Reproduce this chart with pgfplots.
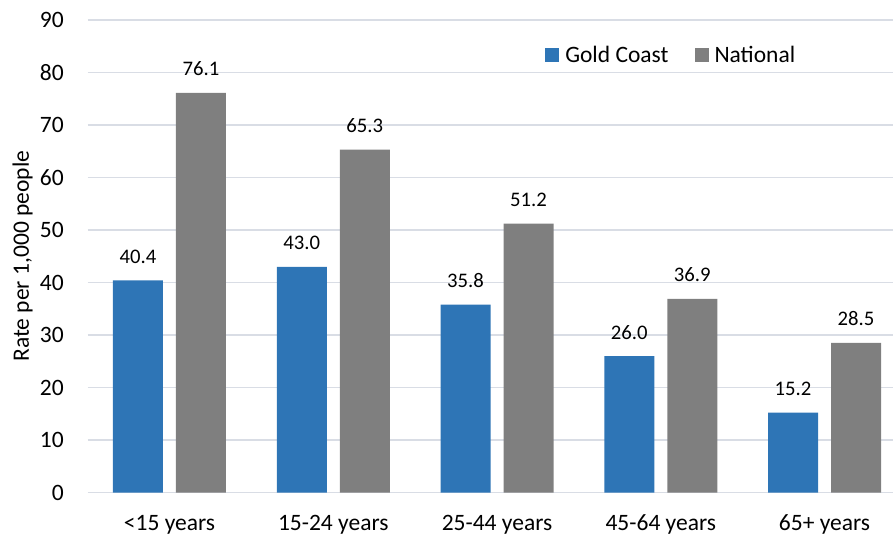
\documentclass[border=0pt]{standalone}
\usepackage{fontspec}
\setmainfont{Carlito}
\usepackage{pgfplots}
\pgfplotsset{compat=1.18}
\definecolor{gcblue}{HTML}{2E75B6}
\definecolor{natgray}{HTML}{7F7F7F}
\definecolor{gridc}{HTML}{D9DDE5}
\begin{document}
\begin{tikzpicture}
\begin{axis}[
  at={(0pt,0pt)}, anchor=south west,
  scale only axis,
  width=805.4pt, height=472.5pt,
  xmin=-0.5, xmax=4.418,
  ymin=0, ymax=90,
  ytick={0,10,...,90},
  xtick={0,1,2,3,4},
  xticklabels={{<15 years},{15-24 years},{25-44 years},{45-64 years},{65+ years}},
  ybar=13pt, bar width=50pt,
  axis line style={draw=none},
  major tick length=0pt,
  ymajorgrids, grid style={gridc, line width=1.2pt},
  /pgf/number format/assume math mode=true,
  tick label style={font=\fontsize{23.5}{28}\selectfont, text=black},
  yticklabel style={anchor=east, inner sep=0pt, xshift=-23.6pt},
  xticklabel style={anchor=base, inner sep=0pt, yshift=-37.5pt},
  ylabel={Rate per 1,000 people},
  every axis y label/.style={at={(axis description cs:0,0.5)}, xshift=-58.6pt, rotate=90, anchor=base, font=\fontsize{23.5}{28}\selectfont},
  nodes near coords,
  every node near coord/.append style={/pgf/number format/fixed, /pgf/number format/fixed zerofill, /pgf/number format/precision=1, /pgf/number format/assume math mode=true, anchor=base, inner sep=0pt, yshift=17pt, font=\fontsize{20.7}{24}\selectfont, text=black},
  legend style={at={(axis description cs:0.568,0.926)}, anchor=west, draw=none, fill=none, inner sep=0pt,
    legend columns=2, font=\fontsize{23.5}{28}\selectfont,
    /tikz/every odd column/.append style={column sep=4pt},
    /tikz/every even column/.append style={column sep=24pt}},
  legend image code/.code={\fill[#1] (0pt,-7pt) rectangle (14pt,7pt);},
]
\addplot[fill=gcblue, draw=none] coordinates {(0,40.4) (1,43.0) (2,35.8) (3,26.0) (4,15.2)};
\addplot[fill=natgray, draw=none] coordinates {(0,76.1) (1,65.3) (2,51.2) (3,36.9) (4,28.5)};
\legend{Gold Coast, National}
\end{axis}
\pgfresetboundingbox
\path (-87.6pt,-45.5pt) rectangle (805.4pt,492.5pt);
\end{tikzpicture}
\end{document}
